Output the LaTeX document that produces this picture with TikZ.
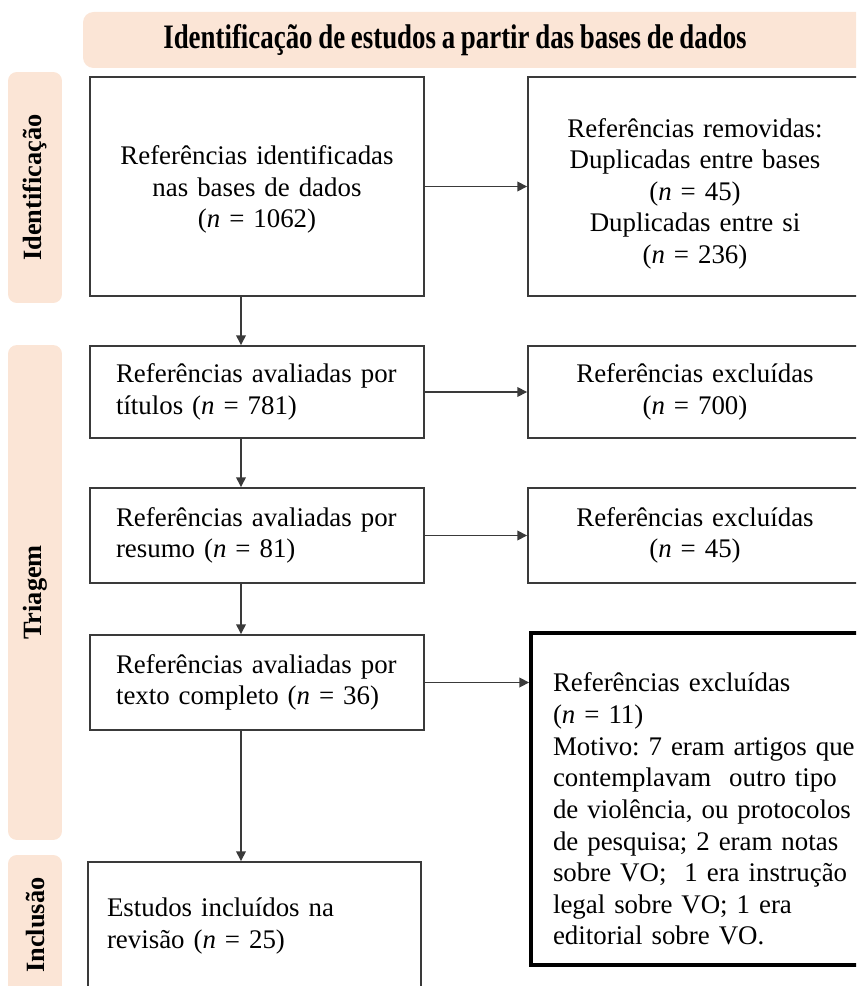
\documentclass[tikz,border=0pt]{standalone}
\usepackage{fontspec}
\setmainfont{Liberation Serif}[WordSpace=0.85]
\usepackage{tikz}
\usetikzlibrary{arrows.meta,calc}
\definecolor{phasepeach}{HTML}{FBE5D6}
\definecolor{boxgray}{HTML}{3A3A3A}
\newcommand{\bodyfont}{\fontsize{15.3}{18}\selectfont\frenchspacing}
\newcommand{\phasefont}{\fontsize{15}{18}\selectfont\bfseries}

\begin{document}
\begin{tikzpicture}[x=0.02cm,y=-0.02cm,
  phase/.style={rotate=90,fill=phasepeach,rounded corners=5pt,minimum height=1.08cm,font=\phasefont,inner sep=0pt},
  lbox/.style={draw=boxgray,line width=1.1pt,font=\bodyfont,text width=5.64cm,inner xsep=0.52cm,align=left},
  cbox/.style={lbox,align=center},
  flow/.style={draw=boxgray,line width=0.8pt,-{Triangle[length=5.5pt,width=5.5pt]}}]
  \clip (0,0) rectangle (856,986);
  \fill[phasepeach,rounded corners=6pt] (83,12) rectangle (900,68);
  \node[font=\phasefont] (head) at (455,40) {\scalebox{1.02}[1.3]{Identificação de estudos a partir das bases de dados}};

  \node[phase,minimum width=4.62cm] (phIdent) at (35,187.5) {Identificação};
  \node[phase,minimum width=9.9cm] (phScreen) at (35,592.5) {Triagem};
  \node[phase,minimum width=2.8cm] (phIncl) at (35,925) {Inclusão};

  \node[cbox,minimum height=4.38cm] (ident) at (257,186.5) {\mbox{}\\[-3.5pt]Referências identificadas\\nas bases de dados\\(\textit{n} = 1062)};
  \node[cbox,minimum height=4.38cm] (removed) at (695,186.5) {\mbox{}\\[1pt]Referências removidas:\\Duplicadas entre bases\\(\textit{n} = 45)\\Duplicadas entre si\\(\textit{n} = 236)};
  \node[lbox,minimum height=1.84cm] (titles) at (257,392) {Referências avaliadas por\\títulos (\textit{n} = 781)};
  \node[cbox,minimum height=1.84cm] (exclTitles) at (695,392) {Referências excluídas\\(\textit{n} = 700)};
  \node[lbox,minimum height=1.9cm] (abstracts) at (257,535.5) {Referências avaliadas por\\resumo (\textit{n} = 81)};
  \node[cbox,minimum height=1.9cm] (exclAbstracts) at (695,535.5) {Referências excluídas\\(\textit{n} = 45)};
  \node[lbox,minimum height=1.9cm] (fulltext) at (257,682.5) {Referências avaliadas por\\texto completo (\textit{n} = 36)};
  \node[lbox,draw=black,line width=2.2pt,text width=6.4cm,inner xsep=0.44cm,minimum height=6.64cm] (exclFull) at (713,799) {\mbox{}\\[4.4pt]Referências excluídas\\(\textit{n} = 11)\\Motivo: 7 eram artigos que\\contemplavam\ \ outro tipo\\de violência, ou protocolos\\de pesquisa; 2 eram notas\\sobre VO;\ \ 1 era instrução\\legal sobre VO; 1 era\\editorial sobre VO.};
  \node[lbox,text width=5.9cm,inner xsep=0.38cm,minimum height=2.56cm] (included) at (254.5,926) {Estudos incluídos na\\revisão (\textit{n} = 25)};

  \coordinate (spine) at (241,0);
  \draw[flow] (ident.south -| spine) -- (titles.north -| spine);
  \draw[flow] (titles.south -| spine) -- (abstracts.north -| spine);
  \draw[flow] (abstracts.south -| spine) -- (fulltext.north -| spine);
  \draw[flow] (fulltext.south -| spine) -- (included.north -| spine);
  \draw[flow] (ident) -- (removed);
  \draw[flow] (titles) -- (exclTitles);
  \draw[flow] (abstracts) -- (exclAbstracts);
  \draw[flow] (fulltext.east) -- (fulltext.east -| exclFull.west);
\end{tikzpicture}
\end{document}
